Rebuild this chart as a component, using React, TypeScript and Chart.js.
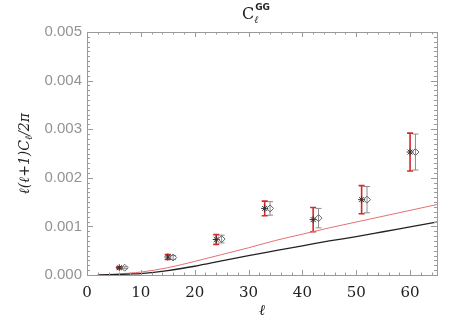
import React, { useEffect, useRef } from "react";
import { Chart, registerables } from "chart.js";
Chart.register(...registerables);

const ELL_BINS = [6, 15, 24, 33, 42, 51, 60];
const ELL_SHIFTED = [7, 16, 25, 34, 43, 52, 61];
const STAR_VALUES = [0.00015, 0.00037, 0.00073, 0.00137, 0.00114, 0.00155, 0.00253];
const STAR_ERRORS = [0.00002, 0.00005, 0.0001, 0.00015, 0.00025, 0.00029, 0.00039];
const DIAMOND_VALUES = [0.00015, 0.00036, 0.00074, 0.00137, 0.00117, 0.00155, 0.00253];
const DIAMOND_ERRORS = [0.00002, 0.00004, 0.00008, 0.00014, 0.0002, 0.00027, 0.00037];
const CURVE_ELL = [2, 4, 6, 8, 10, 15, 20, 25, 30, 35, 40, 45, 50, 55, 60, 65];
const BLACK_CURVE = [0, 0.000005, 0.000012, 0.00002, 0.00003, 0.00009, 0.00018, 0.00029, 0.0004, 0.0005, 0.0006, 0.0007, 0.00079, 0.00089, 0.00099, 0.00109];
const RED_CURVE = [0, 0.00001, 0.00002, 0.00004, 0.00006, 0.00015, 0.00028, 0.00042, 0.00056, 0.00071, 0.00084, 0.00097, 0.00109, 0.00121, 0.00133, 0.00145];
const X_MIN = 0;
const X_MAX = 65;
const X_STEP = 10;
const X_MINOR = 2;
const Y_MIN = 0;
const Y_MAX = 0.005;
const Y_STEP = 0.001;
const Y_MINOR = 0.0001;

const AXIS_GREY = "#9a9a9a";

const decorPlugin = {
  id: "decor",
  beforeDatasetsDraw(chart: any) {
    const { ctx, scales } = chart;
    const xs = scales.x;
    const ys = scales.y;
    const drawBars = (xsV: number[], vals: number[], errs: number[], color: string, w: number) => {
      ctx.save();
      ctx.strokeStyle = color;
      ctx.lineWidth = w;
      for (let i = 0; i < xsV.length; i++) {
        const px = xs.getPixelForValue(xsV[i]);
        const top = ys.getPixelForValue(vals[i] + errs[i]);
        const bot = ys.getPixelForValue(vals[i] - errs[i]);
        ctx.beginPath();
        ctx.moveTo(px, top);
        ctx.lineTo(px, bot);
        ctx.moveTo(px - 3, top);
        ctx.lineTo(px + 3, top);
        ctx.moveTo(px - 3, bot);
        ctx.lineTo(px + 3, bot);
        ctx.stroke();
      }
      ctx.restore();
    };
    drawBars(ELL_SHIFTED, DIAMOND_VALUES, DIAMOND_ERRORS, "#8c8c8c", 1);
    drawBars(ELL_BINS, STAR_VALUES, STAR_ERRORS, "#d42a2a", 1.6);
  },
  afterDraw(chart: any) {
    const { ctx, scales, chartArea } = chart;
    const xs = scales.x;
    const ys = scales.y;
    const { left, right, top, bottom } = chartArea;
    ctx.save();
    ctx.strokeStyle = AXIS_GREY;
    ctx.lineWidth = 1;
    ctx.strokeRect(Math.round(left) + 0.5, Math.round(top) + 0.5, Math.round(right - left), Math.round(bottom - top));
    ctx.beginPath();
    for (let v = X_MIN; v <= X_MAX + 1e-9; v += X_MINOR) {
      const major = Math.abs(v / X_STEP - Math.round(v / X_STEP)) < 1e-6;
      const len = major ? 5 : 2.5;
      const px = Math.round(xs.getPixelForValue(v)) + 0.5;
      ctx.moveTo(px, bottom);
      ctx.lineTo(px, bottom - len);
      ctx.moveTo(px, top);
      ctx.lineTo(px, top + len);
    }
    for (let k = 0; k <= Math.round((Y_MAX - Y_MIN) / Y_MINOR); k++) {
      const v = Y_MIN + k * Y_MINOR;
      const major = k % 10 === 0;
      const len = major ? 6 : 3;
      const py = Math.round(ys.getPixelForValue(v)) + 0.5;
      ctx.moveTo(left, py);
      ctx.lineTo(left + len, py);
      ctx.moveTo(right, py);
      ctx.lineTo(right - len, py);
    }
    ctx.stroke();

    // title
    const cx = (left + right) / 2;
    ctx.fillStyle = "#222";
    ctx.textBaseline = "alphabetic";
    ctx.textAlign = "left";
    ctx.font = '16px "DejaVu Serif"';
    const cW = ctx.measureText("C").width;
    ctx.font = 'italic 10px "DejaVu Serif"';
    const lW = ctx.measureText("ℓ").width;
    ctx.font = 'bold 9px "DejaVu Sans"';
    const gW = ctx.measureText("GG").width;
    const tot = cW + Math.max(lW, gW) + 1;
    const x0 = cx - tot / 2 - 6;
    ctx.font = '16px "DejaVu Serif"';
    ctx.fillText("C", x0, 19);
    ctx.font = 'italic 10px "DejaVu Serif"';
    ctx.fillText("ℓ", x0 + cW, 23);
    ctx.font = 'bold 9px "DejaVu Sans"';
    ctx.fillText("GG", x0 + cW + 1, 10);

    // y title
    ctx.save();
    ctx.translate(24, (top + bottom) / 2);
    ctx.rotate(-Math.PI / 2);
    const big = 'italic 14px "DejaVu Serif"';
    const small = 'italic 10px "DejaVu Serif"';
    const parts: [string, string, number][] = [
      ["ℓ(ℓ+1)C", big, 0],
      ["ℓ", small, 3],
      ["/2π", big, 0],
    ];
    let total = 0;
    for (const p of parts) {
      ctx.font = p[1];
      total += ctx.measureText(p[0]).width;
    }
    let xx = -total / 2;
    for (const p of parts) {
      ctx.font = p[1];
      ctx.fillText(p[0], xx, 5 + p[2]);
      xx += ctx.measureText(p[0]).width;
    }
    ctx.restore();

    // x title
    ctx.textAlign = "center";
    ctx.font = 'italic 15px "DejaVu Serif"';
    ctx.fillText("ℓ", cx, 315);
    ctx.restore();
  },
};

export default function App() {
  const ref = useRef<HTMLCanvasElement | null>(null);
  useEffect(() => {
    document.body.style.margin = "0";
    const canvas = ref.current;
    if (!canvas) return;
    const chart = new Chart(canvas, {
      type: "scatter",
      data: {
        datasets: [
          {
            type: "line",
            data: CURVE_ELL.map((x, i) => ({ x, y: BLACK_CURVE[i] })),
            borderColor: "#222",
            borderWidth: 1.3,
            pointRadius: 0,
            cubicInterpolationMode: "monotone",
            fill: false,
          },
          {
            type: "line",
            data: CURVE_ELL.map((x, i) => ({ x, y: RED_CURVE[i] })),
            borderColor: "#e57070",
            borderWidth: 1,
            pointRadius: 0,
            cubicInterpolationMode: "monotone",
            fill: false,
          },
          {
            data: ELL_SHIFTED.map((x, i) => ({ x, y: DIAMOND_VALUES[i] })),
            pointStyle: "rectRot",
            pointRadius: 3.5,
            borderColor: "#666",
            backgroundColor: "rgba(255,255,255,0)",
            borderWidth: 1,
          },
          {
            data: ELL_BINS.map((x, i) => ({ x, y: STAR_VALUES[i] })),
            pointStyle: "star",
            pointRadius: 3.5,
            borderColor: "#333",
            backgroundColor: "#333",
            borderWidth: 1,
          },
        ],
      },
      options: {
        animation: false,
        responsive: false,
        events: [],
        layout: { padding: { top: 32, right: 26, left: 0, bottom: 0 } },
        plugins: { legend: { display: false }, tooltip: { enabled: false }, title: { display: false } },
        scales: {
          x: {
            type: "linear",
            min: X_MIN,
            max: X_MAX,
            grid: { display: false, drawTicks: false },
            border: { display: false },
            ticks: {
              stepSize: X_STEP,
              includeBounds: false,
              padding: 9,
              maxRotation: 0,
              color: "#222",
              font: { family: '"DejaVu Serif"', size: 15 },
            },
            afterFit: (s: any) => {
              s.height = 56;
            },
          },
          y: {
            type: "linear",
            min: Y_MIN,
            max: Y_MAX,
            grid: { display: false, drawTicks: false },
            border: { display: false },
            ticks: {
              stepSize: Y_STEP,
              padding: 5,
              color: "#939393",
              font: { family: '"Liberation Sans"', size: 15 },
              callback: (v: any) => Number(v).toFixed(3),
            },
            afterFit: (s: any) => {
              s.width = 87;
            },
          },
        },
      },
      plugins: [decorPlugin],
    } as any);
    return () => chart.destroy();
  }, []);
  return (
    <div style={{ width: 463, height: 331, background: "#fff" }}>
      <canvas ref={ref} width={463} height={331} style={{ display: "block" }} />
    </div>
  );
}
